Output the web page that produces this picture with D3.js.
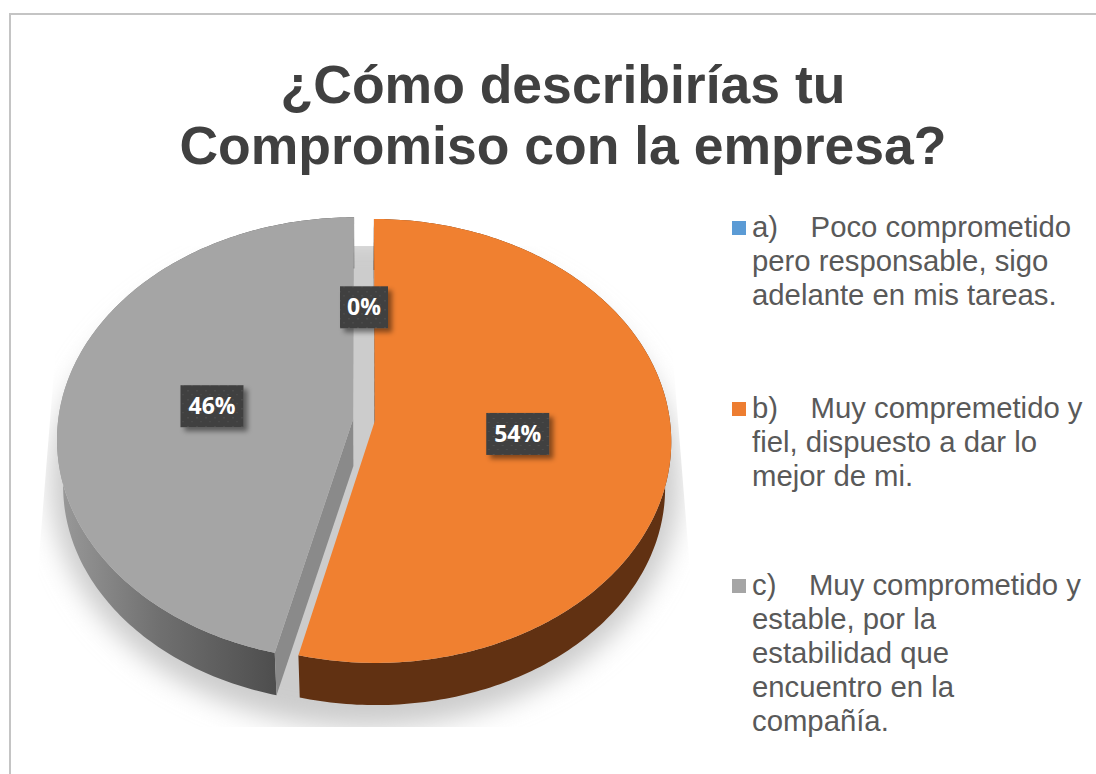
<!DOCTYPE html>
<html>

<head>
  <meta charset="utf-8">
  <title>Compromiso con la empresa</title>
  <script src="https://cdn.jsdelivr.net/npm/d3@7"></script>
  <style>
    html, body { margin: 0; padding: 0; background: #fff; }
    svg { display: block; }
  </style>
</head>

<body>
  <script>
    // data
    const titleLines = ["¿Cómo describirías tu", "Compromiso con la empresa?"];
    const categories = ["a", "b", "c"];
    const values = [0, 53.85, 46.15];
    const legendLines = [
      ["a)    Poco comprometido", "pero responsable, sigo", "adelante en mis tareas."],
      ["b)    Muy compremetido y", "fiel, dispuesto a dar lo", "mejor de mi."],
      ["c)    Muy comprometido y", "estable, por la", "estabilidad que", "encuentro en la", "compañía."]
    ];
    const colors = ["#5b9bd5", "#ed7d31", "#a5a5a5"];
    const topColors = ["#5b9bd5", "#f08030", "#a5a5a5"];

    const w = 1096;
    const h = 774;

    // pie geometry, the pie is tilted so it is drawn through a small perspective
    const cx = 364;
    const cy = 420;
    const radiusX = 295;
    const radiusY = 220;
    const tilt = 0.09;
    const explode = 0.037;
    const depth = 47;
    const bottomScale = 0.98;
    const labelRadius = 0.485;
    const zeroLabelRadius = 0.5;

    const svg = d3.select("body").append("svg")
      .attr("width", w)
      .attr("height", h)
      .attr("viewBox", [0, 0, w, h]);

    const defs = svg.append("defs");

    defs.append("filter").attr("id", "shadowBlur")
      .attr("x", "-20%").attr("y", "-20%").attr("width", "140%").attr("height", "140%")
      .append("feGaussianBlur").attr("stdDeviation", 13);

    const labelShadow = defs.append("filter").attr("id", "labelShadow")
      .attr("x", "-30%").attr("y", "-30%").attr("width", "170%").attr("height", "170%");
    labelShadow.append("feDropShadow")
      .attr("dx", 4).attr("dy", 4).attr("stdDeviation", 2.5)
      .attr("flood-color", "#000").attr("flood-opacity", 0.45);

    const dots = defs.append("pattern").attr("id", "labelDots")
      .attr("width", 9).attr("height", 9).attr("patternUnits", "userSpaceOnUse");
    dots.append("rect").attr("width", 9).attr("height", 9).attr("fill", "#404040");
    dots.append("rect").attr("x", 2).attr("y", 2).attr("width", 2).attr("height", 1).attr("fill", "#505050");
    dots.append("rect").attr("x", 6).attr("y", 6).attr("width", 2).attr("height", 1).attr("fill", "#4c4c4c");

    const grayWall = defs.append("linearGradient").attr("id", "wall2")
      .attr("gradientUnits", "userSpaceOnUse")
      .attr("x1", 60).attr("x2", 278).attr("y1", 0).attr("y2", 0);
    grayWall.append("stop").attr("offset", 0).attr("stop-color", "#999999");
    grayWall.append("stop").attr("offset", 0.45).attr("stop-color", "#707070");
    grayWall.append("stop").attr("offset", 1).attr("stop-color", "#4d4d4d");

    // frame of the chart area
    svg.append("path")
      .attr("d", `M${w},14 H10 V${h}`)
      .attr("fill", "none")
      .attr("stroke", "#c4c4c4")
      .attr("stroke-width", 2);

    // title
    svg.append("g").selectAll("text")
      .data(titleLines)
      .join("text")
      .attr("x", 563)
      .attr("y", (d, i) => 103 + i * 61)
      .attr("text-anchor", "middle")
      .attr("font-family", "'Liberation Sans', Arial, sans-serif")
      .attr("font-weight", "bold")
      .attr("font-size", 53.5)
      .attr("fill", "#404040")
      .text(d => d);

    const pie = d3.pie().sort(null).value(d => d);
    const slices = pie(values);

    // unit disc -> screen, y grows downward
    function project(x, y) {
      const k = 1 - tilt * y;
      return [cx + radiusX * x / k, cy + radiusY * y / k];
    }

    function discPoint(d, r, a) {
      const mid = (d.startAngle + d.endAngle) / 2;
      return project(
        r * Math.sin(a) + explode * Math.sin(mid),
        -r * Math.cos(a) - explode * Math.cos(mid)
      );
    }

    function lower(p) {
      return [cx + (p[0] - cx) * bottomScale, cy + (p[1] - cy) * bottomScale + depth];
    }

    function rim(d) {
      const n = Math.max(2, Math.ceil((d.endAngle - d.startAngle) * 60));
      return d3.range(n + 1).map(i =>
        discPoint(d, 1, d.startAngle + (d.endAngle - d.startAngle) * i / n));
    }

    const line = d3.line().curve(d3.curveLinearClosed);
    const visible = slices.filter(d => d.value > 0);

    // soft shadow under the pie, cut off by its square box
    const clip = defs.append("clipPath").attr("id", "shadowClip");
    clip.append("path").attr("d", line([
      [cx - 300, cy - 174], [cx + 300, cy - 174], [cx + 326, cy + 150],
      [cx + 326, cy + 307], [cx - 326, cy + 307], [cx - 326, cy + 150]
    ]));
    svg.append("g").attr("clip-path", "url(#shadowClip)")
      .append("ellipse")
      .attr("cx", cx + 1)
      .attr("cy", cy + 62)
      .attr("rx", radiusX + 20)
      .attr("ry", radiusY + 26)
      .attr("fill", "#cccccc")
      .attr("filter", "url(#shadowBlur)");

    // outer walls
    svg.append("g").selectAll("path")
      .data(visible)
      .join("path")
      .attr("d", d => {
        const top = rim(d);
        return line(top.concat(top.slice().reverse().map(lower)));
      })
      .attr("fill", d => d.index === 1 ? "#613112" : "url(#wall2)");

    // cut faces of the slices, seen where a slice ends on the near side
    svg.append("g").selectAll("path")
      .data(visible)
      .join("path")
      .attr("d", d => {
        const apex = discPoint(d, 0, 0);
        const edge = discPoint(d, 1, d.startAngle);
        return line([apex, edge, lower(edge), lower(apex)]);
      })
      .attr("fill", d => d.index === 1 ? "#4d260c" : "#8a8a8a");

    // top faces
    svg.append("g").selectAll("path")
      .data(visible)
      .join("path")
      .attr("d", d => line([discPoint(d, 0, 0)].concat(rim(d))))
      .attr("fill", d => topColors[d.index]);

    // percent labels
    const total = d3.sum(values);
    const label = svg.append("g").selectAll("g")
      .data(slices)
      .join("g")
      .attr("transform", d => {
        const mid = (d.startAngle + d.endAngle) / 2;
        const r = d.value > 0 ? labelRadius : zeroLabelRadius;
        const p = discPoint(d, r, mid);
        return `translate(${p[0]},${p[1]})`;
      });

    label.append("rect")
      .attr("x", d => d.value > 0 ? -31.5 : -24)
      .attr("y", -21)
      .attr("width", d => d.value > 0 ? 63 : 48)
      .attr("height", 42)
      .attr("fill", "url(#labelDots)")
      .attr("filter", "url(#labelShadow)");

    label.append("text")
      .attr("text-anchor", "middle")
      .attr("y", 8)
      .attr("font-family", "'Open Sans', sans-serif")
      .attr("font-weight", "bold")
      .attr("font-size", 23)
      .attr("fill", "#ffffff")
      .text(d => Math.round(d.value / total * 100) + "%");

    // legend
    const legendY = [227, 408, 585];
    const legendLine = 34;
    const legend = svg.append("g").selectAll("g")
      .data(categories)
      .join("g")
      .attr("transform", (d, i) => `translate(0,${legendY[i]})`);

    legend.append("rect")
      .attr("x", 732)
      .attr("y", -6)
      .attr("width", 14)
      .attr("height", 14)
      .attr("fill", (d, i) => colors[i]);

    legend.selectAll("text")
      .data((d, i) => legendLines[i])
      .join("text")
      .attr("x", 752)
      .attr("y", (d, i) => 10 + i * legendLine)
      .style("white-space", "pre")
      .attr("font-family", "'Liberation Sans', Arial, sans-serif")
      .attr("font-size", 29.3)
      .attr("fill", "#595959")
      .text(d => d);
  </script>
</body>

</html>
